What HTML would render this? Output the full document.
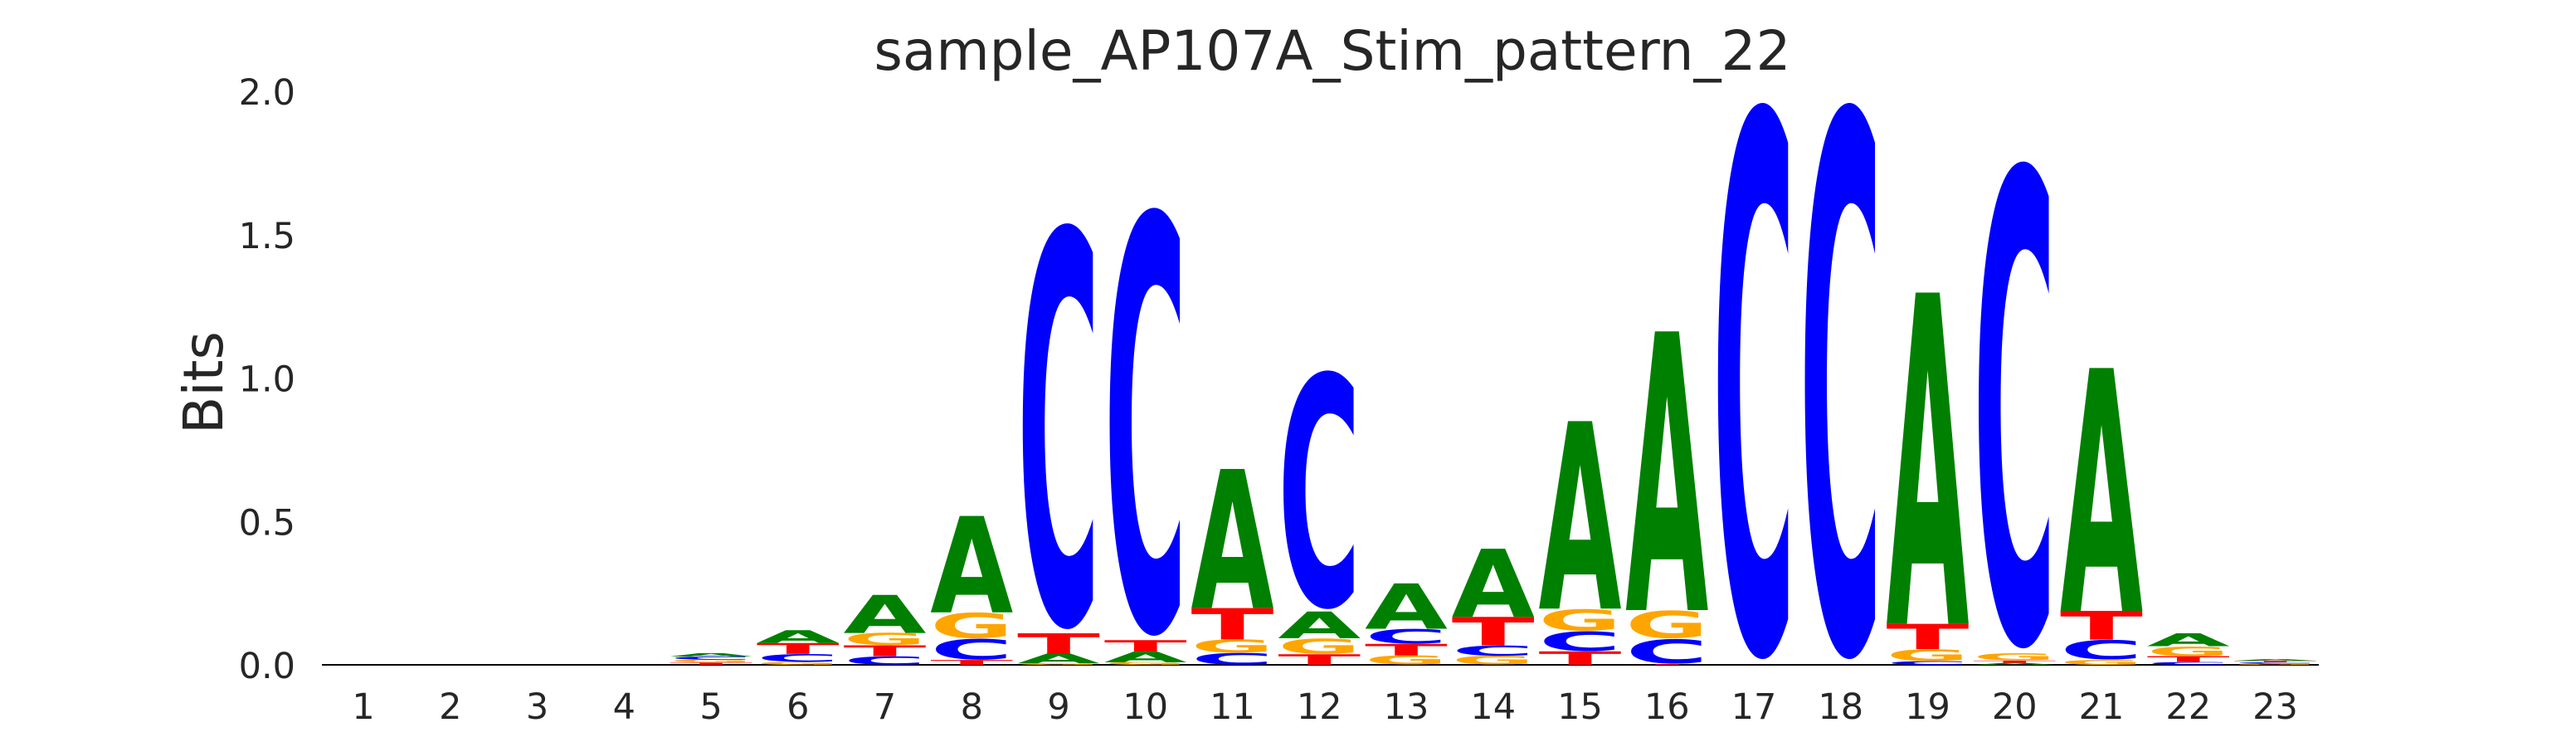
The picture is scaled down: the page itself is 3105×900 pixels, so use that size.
<!DOCTYPE html>
<html><head><meta charset="utf-8"><style>
html,body{margin:0;padding:0;background:#fff;width:3105px;height:900px;overflow:hidden}
svg{display:block;overflow:hidden}
text{font-family:"DejaVu Sans","Liberation Sans",sans-serif}
</style></head><body>
<svg id="chart" width="3105" height="900" viewBox="0 0 3105 900" xmlns="http://www.w3.org/2000/svg">
<text x="1606" y="84" font-size="66" text-anchor="middle" fill="#262626">sample_AP107A_Stim_pattern_22</text>
<text transform="translate(268,461) rotate(-90)" font-size="66" text-anchor="middle" fill="#262626">Bits</text>
<line x1="388" y1="801" x2="2795" y2="801" stroke="#000" stroke-width="2"/>
<g id="yticks"></g><g id="xticks"></g><g id="letters"></g>
</svg>
<script>
const positions = [1,2,3,4,5,6,7,8,9,10,11,12,13,14,15,16,17,18,19,20,21,22,23];
const valsA = [0,0,0,0,0.012,0.045,0.133,0.336,0.034,0.037,0.485,0.093,0.158,0.238,0.654,0.972,0,0,1.155,0.007,0.847,0.045,0.006];
const valsC = [0,0,0,0,0.011,0.028,0.030,0.075,1.446,1.525,0.042,0.850,0.053,0.037,0.071,0.088,1.982,1.982,0.013,1.735,0.070,0.010,0.005];
const valsG = [0,0,0,0,0.010,0.010,0.043,0.091,0.005,0.009,0.047,0.056,0.033,0.031,0.078,0.100,0,0,0.042,0.025,0.018,0.035,0.004];
const valsT = [0,0,0,0,0.008,0.038,0.038,0.017,0.071,0.040,0.109,0.037,0.040,0.099,0.047,0.003,0,0,0.088,0.008,0.100,0.020,0.005];
const yTickLabels = ["0.0","0.5","1.0","1.5","2.0"];
const yTickValues = [0,0.5,1.0,1.5,2.0];

const NS = "http://www.w3.org/2000/svg";
const xScale = p => 438 + (p - 1) * 104.75;
const yScale = v => 801 - v * 345.5;
const colors = {A:"#008000", C:"#0000ff", G:"#ffa500", T:"#ff0000"};
const ext = {A:[0,72.9], T:[0,72.9], C:[-2.2,75.1], G:[-2.2,75.1]};
const LW = 100, FS = 100;

const yt = document.getElementById('yticks');
yTickValues.forEach((v, i) => {
  const t = document.createElementNS(NS, 'text');
  
  
  t.setAttribute('x', 356); t.setAttribute('y', yScale(v) + 16);
  t.setAttribute('font-size', 43); t.setAttribute('text-anchor', 'end'); t.setAttribute('fill', '#262626');
  t.textContent = yTickLabels[i];
  yt.appendChild(t);
});
const xt = document.getElementById('xticks');
positions.forEach(p => {
  const t = document.createElementNS(NS, 'text');
  
  
  t.setAttribute('x', xScale(p)); t.setAttribute('y', 866);
  t.setAttribute('font-size', 43); t.setAttribute('text-anchor', 'middle'); t.setAttribute('fill', '#262626');
  t.textContent = String(p);
  xt.appendChild(t);
});
const lg = document.getElementById('letters');
positions.forEach((p, i) => {
  const stack = [['A', valsA[i]], ['C', valsC[i]], ['G', valsG[i]], ['T', valsT[i]]]
    .filter(d => d[1] > 0).sort((a, b) => a[1] - b[1]);
  let cum = 0;
  stack.forEach(([L, v]) => {
    const yb = yScale(cum);
    const h = yScale(cum) - yScale(cum + v);
    cum += v;
    const e = ext[L];
    const sy = h / (e[1] - e[0]);
    const baseY = yb + e[0] * sy;
    const t = document.createElementNS(NS, 'text');
    
    
    t.setAttribute('transform', `translate(${xScale(p) - LW / 2},${baseY}) scale(1,${sy})`);
    t.setAttribute('font-size', FS);
    t.setAttribute('font-weight', 'bold');
    t.setAttribute('textLength', LW);
    t.setAttribute('lengthAdjust', 'spacingAndGlyphs');
    t.setAttribute('fill', colors[L]);
    t.textContent = L;
    lg.appendChild(t);
  });
});
</script>
</body></html>
